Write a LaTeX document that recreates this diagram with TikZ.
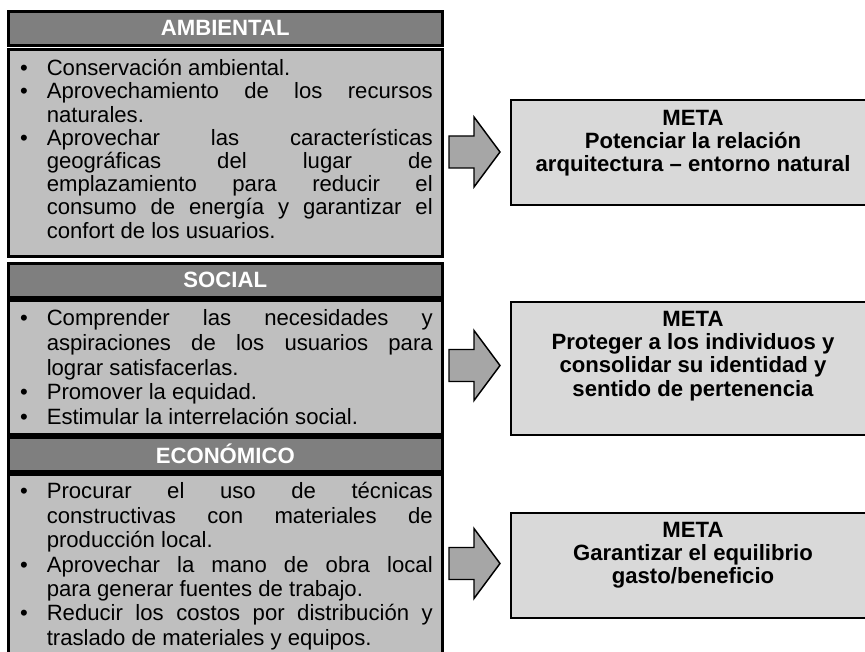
\documentclass[tikz,border=0pt]{standalone}
\usepackage{fontspec}
\setmainfont{Liberation Sans}
\usetikzlibrary{positioning}

\definecolor{headgray}{HTML}{7F7F7F}
\definecolor{bodygray}{HTML}{BFBFBF}
\definecolor{metagray}{HTML}{D9D9D9}
\definecolor{arrowgray}{HTML}{A6A6A6}

\newenvironment{puntos}[2]{\def\puntosbajo{#2}\begin{minipage}{325.5pt}\fontsize{16.6pt}{#1}\selectfont
  \hyphenpenalty=10000 \exhyphenpenalty=10000
  \begin{list}{\textbullet}{\setlength{\leftmargin}{21.75pt}\setlength{\rightmargin}{14.25pt}%
    \setlength{\labelsep}{14.25pt}\setlength{\labelwidth}{6pt}\setlength{\itemindent}{0pt}%
    \setlength{\itemsep}{0pt}\setlength{\parsep}{0pt}\setlength{\topsep}{0pt}\setlength{\partopsep}{0pt}}}%
  {\end{list}\par\kern\puntosbajo\end{minipage}}

\begin{document}
\begin{tikzpicture}[x=0.75pt, y=-0.75pt,
  headbox/.style={draw=black, line width=1.9pt, fill=headgray, text=white, inner sep=0pt,
    minimum width=325.5pt, minimum height=25.5pt, anchor=north west,
    font=\fontsize{16.6pt}{17.4pt}\selectfont\bfseries},
  bodybox/.style={draw=black, line width=1.9pt, fill=bodygray, inner sep=0pt,
    minimum width=325.5pt, anchor=north west},
  metabox/.style={draw=black, line width=1.5pt, fill=metagray, inner sep=0pt,
    minimum width=273pt, anchor=north west},
  metatxt/.style={inner sep=0pt, align=center, font=\fontsize{16.6pt}{17.4pt}\selectfont\bfseries},
  bigarrow/.style={draw=black, line width=1.1pt, fill=arrowgray, line join=miter}]
  \useasboundingbox (0,0) rectangle (865,652);
  \clip (0,0) rectangle (865,652);

  \node[headbox] (ambH) at (7,10) {AMBIENTAL};
  \node[bodybox, minimum height=155.25pt] (ambB) at (7,48) {\begin{puntos}{17.4pt}{6pt}
    \item Conservación ambiental.
    \item Aprovechamiento de los recursos\linebreak naturales.
    \item Aprovechar las características\linebreak geográficas del lugar de\linebreak
      emplazamiento para reducir el\linebreak consumo de energía y garantizar el\linebreak
      confort de los usuarios.
  \end{puntos}};

  \node[headbox] (socH) at (7,262) {SOCIAL};
  \node[bodybox, minimum height=100.5pt] (socB) at (7,299) {\begin{puntos}{18.5pt}{0pt}
    \item Comprender las necesidades y\linebreak aspiraciones de los usuarios para\linebreak
      lograr satisfacerlas.
    \item Promover la equidad.
    \item Estimular la interrelación social.
  \end{puntos}};

  \node[headbox] (ecoH) at (7,436) {ECONÓMICO};
  \node[bodybox, minimum height=138pt] (ecoB) at (7,473) {\begin{puntos}{18.3pt}{0pt}
    \item Procurar el uso de técnicas\linebreak constructivas con materiales de\linebreak
      producción local.
    \item Aprovechar la mano de obra local\linebreak para generar fuentes de trabajo.
    \item Reducir los costos por distribución y\linebreak traslado de materiales y equipos.
  \end{puntos}};

  \node[metabox, minimum height=78.75pt] (meta1) at (510,99) {};
  \node[metatxt, below=8.25pt of meta1.north] (meta1t) {META\\Potenciar la relación\\arquitectura – entorno natural};
  \node[metabox, minimum height=99.75pt] (meta2) at (510,301) {};
  \node[metatxt, below=7.5pt of meta2.north] (meta2t) {META\\Proteger a los individuos y\\consolidar su identidad y\\sentido de pertenencia};
  \node[metabox, minimum height=78.75pt] (meta3) at (510,512) {};
  \node[metatxt, below=7.5pt of meta3.north] (meta3t) {META\\Garantizar el equilibrio\\gasto/beneficio};

  \foreach \y in {152,365.5,563.5}
    \draw[bigarrow] (449,\y-16) -- (474,\y-16) -- (474,\y-35) -- (500,\y)
      -- (474,\y+35) -- (474,\y+16) -- (449,\y+16) -- cycle;
\end{tikzpicture}
\end{document}
